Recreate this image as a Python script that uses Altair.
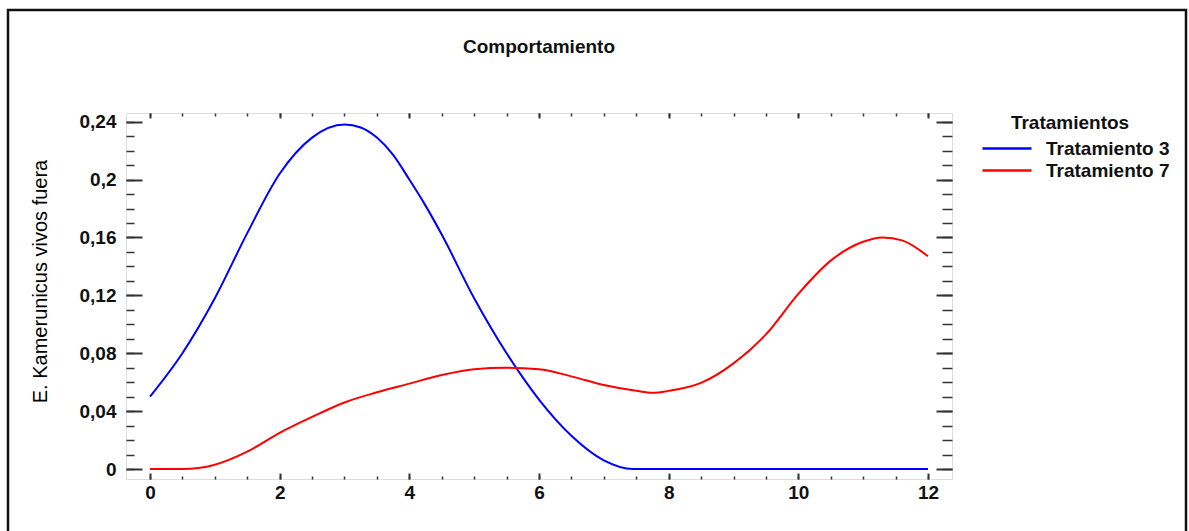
import altair as alt
import pandas as pd

# ---- data ----
chart_title = "Comportamiento"
y_title = "E. Kamerunicus vivos fuera"
legend_title = "Tratamientos"
series_names = ["Tratamiento 3", "Tratamiento 7"]
colors = ["#0000ff", "#ff0000"]

x_t3 = [0, 0.5, 1, 1.5, 2, 2.5, 3, 3.25, 3.5, 3.75, 4, 4.25, 4.5, 5, 5.5, 6, 6.5, 7,
        7.45, 8, 9, 10, 11, 12]
y_t3 = [0.050, 0.080, 0.118, 0.163, 0.204, 0.229, 0.238, 0.236, 0.229, 0.217, 0.200,
        0.182, 0.162, 0.118, 0.080, 0.048, 0.023, 0.006, 0.0, 0.0, 0.0, 0.0, 0.0, 0.0]

x_t7 = [0, 0.5, 1, 1.5, 2, 2.5, 3, 3.5, 4, 4.5, 5, 5.5, 6, 6.5, 7, 7.5, 7.75, 8, 8.5,
        9, 9.5, 10, 10.5, 11, 11.3, 11.6, 12]
y_t7 = [0.0, 0.0, 0.003, 0.012, 0.025, 0.036, 0.046, 0.053, 0.059, 0.065, 0.069, 0.070,
        0.069, 0.064, 0.058, 0.054, 0.0527, 0.054, 0.0595, 0.073, 0.093, 0.121, 0.144,
        0.157, 0.160, 0.158, 0.147]

x_major = [0, 2, 4, 6, 8, 10, 12]
x_minor = [i * 0.5 for i in range(25)]
y_major = [0, 0.04, 0.08, 0.12, 0.16, 0.2, 0.24]
y_minor = [round(i * 0.01, 2) for i in range(25)]

x_domain = [-0.37, 12.37]
y_domain = [-0.0069, 0.246]

rows = []
for xv, yv in zip(x_t3, y_t3):
    rows.append({"x": xv, "y": yv, "serie": series_names[0]})
for xv, yv in zip(x_t7, y_t7):
    rows.append({"x": xv, "y": yv, "serie": series_names[1]})
df = pd.DataFrame(rows)

FONT = "Liberation Sans"
xs = alt.Scale(domain=x_domain, nice=False, zero=False)
ys = alt.Scale(domain=y_domain, nice=False, zero=False)
lab = "replace(format(datum.value, '~g'), '.', ',')"


def ax(orient, values, size, labels=False, title=None, **kw):
    return alt.Axis(
        orient=orient, values=values, tickSize=size, offset=-size, domain=False,
        grid=False, labels=labels, title=title, tickColor="#333",
        tickWidth=kw.pop("tickWidth", 1.5), **kw
    )


lines = alt.Chart(df).mark_line(strokeWidth=2, interpolate="monotone").encode(
    x=alt.X("x:Q", scale=xs,
            axis=ax("bottom", x_major, 6, labels=True, labelExpr=lab, labelPadding=4,
                    labelFont=FONT, labelFontSize=19, labelFontWeight="bold",
                    labelColor="#111", tickWidth=2)),
    y=alt.Y("y:Q", scale=ys,
            axis=ax("left", y_major, 16, labels=True, labelExpr=lab, labelPadding=10,
                    labelFont=FONT, labelFontSize=19, labelFontWeight="bold",
                    labelColor="#111", tickWidth=2,
                    title=y_title, titleFont=FONT,
                    titleFontSize=20, titleFontWeight="normal", titleColor="#000",
                    titlePadding=29, titleY=168)),
    color=alt.Color("serie:N", scale=alt.Scale(domain=series_names, range=colors),
                    legend=alt.Legend(
                        title=legend_title, orient="none", legendX=845, legendY=1,
                        symbolType="M0,0H4.9", symbolSize=400, symbolStrokeWidth=2.5,
                        labelFont=FONT, labelFontSize=19, labelFontWeight="bold",
                        labelColor="#111", labelOffset=52, titleFont=FONT,
                        titleFontSize=19, titleFontWeight="bold", titleColor="#111",
                        titleAnchor="middle", titlePadding=4, rowPadding=-3, padding=0)),
)

ghost = alt.Chart(df).mark_point(opacity=0)

l2 = ghost.encode(
    x=alt.X("x:Q", scale=xs, axis=ax("bottom", x_minor, 3)),
    y=alt.Y("y:Q", scale=ys, axis=ax("left", y_minor, 8)),
)
l3 = ghost.encode(
    x=alt.X("x:Q", scale=xs, axis=ax("top", x_major, 5, tickWidth=2)),
    y=alt.Y("y:Q", scale=ys, axis=ax("right", y_major, 16, tickWidth=2)),
)
l4 = ghost.encode(
    x=alt.X("x:Q", scale=xs, axis=ax("top", x_minor, 3)),
    y=alt.Y("y:Q", scale=ys, axis=ax("right", y_minor, 10)),
)

border = alt.Chart(pd.DataFrame({"a": [0]})).mark_rect(
    fill="transparent", stroke="#111", strokeWidth=2.5
).encode(x=alt.value(-118), x2=alt.value(1060), y=alt.value(-103), y2=alt.value(440))

title_text = alt.Chart(pd.DataFrame({"t": [chart_title]})).mark_text(
    font=FONT, fontSize=19, fontWeight="bold", color="#111", align="center",
    baseline="alphabetic"
).encode(text="t:N", x=alt.value(413), y=alt.value(-60))

chart = alt.layer(border, title_text, lines, l2, l3, l4).resolve_axis(
    x="independent", y="independent"
).properties(
    width=826, height=366,
    autosize=alt.AutoSizeParams(type="none"),
    padding={"left": 126, "top": 113, "right": 237, "bottom": 52},
).configure_view(stroke="#222", strokeWidth=2).configure(background="white")

chart.save("out.html", embed_options={"renderer": "svg", "actions": False})
